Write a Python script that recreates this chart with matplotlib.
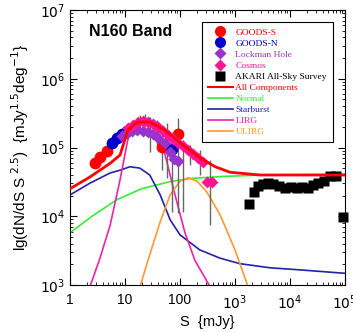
import numpy as np
import matplotlib
matplotlib.use("Agg")
import matplotlib.pyplot as plt
from matplotlib.lines import Line2D
from matplotlib.ticker import LogLocator, FixedLocator, FixedFormatter, NullFormatter

# ── data (log10 S [mJy], log10 dN/dS S^2.5) ──────────────────────────────────
all_s   = [0.0, 0.36, 0.73, 0.91, 1.05, 1.22, 1.45, 1.73, 2.0, 2.36, 2.64, 2.91, 3.45, 5.0]
all_n   = [4.40, 4.57, 4.77, 4.89, 5.25, 5.37, 5.37, 5.25, 5.07, 4.85, 4.72, 4.64, 4.60, 4.60]

norm_s  = [0.0, 0.4, 0.85, 1.3, 1.8, 2.2, 2.8, 3.5, 5.0]
norm_n  = [3.76, 4.0, 4.24, 4.40, 4.50, 4.55, 4.58, 4.60, 4.61]

sb_s    = [0.0, 0.36, 0.73, 0.91, 1.09, 1.27, 1.45, 1.64, 1.82, 2.0, 2.36, 2.73, 3.09, 3.64, 4.18, 5.0]
sb_n    = [4.31, 4.48, 4.63, 4.67, 4.72, 4.70, 4.60, 4.31, 3.95, 3.73, 3.51, 3.39, 3.31, 3.25, 3.22, 3.17]

lirg_s  = [0.36, 0.545, 0.73, 0.91, 1.05, 1.18, 1.36, 1.55, 1.73, 1.91, 2.09, 2.27, 2.55]
lirg_n  = [2.97, 3.39, 3.87, 4.53, 5.11, 5.36, 5.43, 5.33, 4.89, 4.31, 3.76, 3.36, 2.97]

ulirg_s = [1.27, 1.45, 1.64, 1.82, 2.0, 2.15, 2.31, 2.49, 2.73, 3.0, 3.24]
ulirg_n = [2.97, 3.44, 3.92, 4.31, 4.51, 4.56, 4.51, 4.35, 4.02, 3.51, 2.97]

goods_s_x = [0.455, 0.545, 0.673, 1.67, 1.96]
goods_s_y = [4.77, 4.86, 4.95, 5.01, 5.20]

goods_n_x = [0.764, 0.855, 0.945, 1.04, 1.85]
goods_n_y = [5.07, 5.14, 5.20, 5.24, 4.98]

lockman_x = [0.945, 1.04, 1.13, 1.22, 1.33, 1.42, 1.51, 1.60, 1.73, 1.82, 1.89, 1.96]
lockman_y = [5.17, 5.21, 5.24, 5.25, 5.24, 5.23, 5.20, 5.14, 5.07, 4.93, 4.83, 4.80]

cosmos_x = [1.05, 1.15, 1.24, 1.33, 1.42, 1.51, 1.60, 1.69, 1.78, 1.87, 1.96, 2.05,
            2.15, 2.24, 2.33, 2.42, 2.49, 2.58]
cosmos_y = [5.28, 5.33, 5.37, 5.39, 5.37, 5.34, 5.30, 5.24, 5.18, 5.12, 5.07, 5.02,
            4.96, 4.91, 4.85, 4.79, 4.50, 4.50]

akari_x = [3.25, 3.35, 3.42, 3.51, 3.60, 3.69, 3.80, 3.91, 4.02, 4.13, 4.22, 4.33,
           4.42, 4.51, 4.62, 4.73, 4.84, 4.96]
akari_y = [4.18, 4.35, 4.44, 4.47, 4.48, 4.47, 4.44, 4.41, 4.43, 4.41, 4.43, 4.41,
           4.45, 4.48, 4.51, 4.59, 4.59, 3.99]

# gray error bars: position, top, bottom
err_x  = [1.27, 1.36, 1.45, 1.58, 1.67, 1.76, 1.85, 1.96, 2.05, 2.18, 2.36, 2.55]
err_hi = [5.47, 5.48, 5.44, 5.40, 5.33, 5.36, 5.00, 5.43, 5.11, 5.04, 4.96, 4.82]
err_lo = [5.28, 5.30, 4.93, 5.04, 4.67, 4.56, 4.06, 4.05, 4.06, 4.75, 4.60, 3.87]

# ── colours ───────────────────────────────────────────────────────────────────
C_RED    = "#ff0000"
C_BLUE   = "#0000cc"
C_PURPLE = "#9933cc"
C_PINK   = "#ff1493"
C_GREEN  = "#33ee33"
C_SB     = "#2222aa"
C_LIRG   = "#ee22aa"
C_ULIRG  = "#ff9933"

def L(a):
    return 10 ** np.asarray(a)

fig = plt.figure(figsize=(3.53, 3.32), dpi=100)
ax = fig.add_axes([70 / 353, 1 - 285 / 332, 275 / 353, 275 / 332])
ax.set_xscale("log"); ax.set_yscale("log")
ax.set_xlim(1, 1e5); ax.set_ylim(1e3, 1e7)

# model curves
ax.plot(L(norm_s),  L(norm_n),  color=C_GREEN, lw=1.2, zorder=2)
ax.plot(L(sb_s),    L(sb_n),    color=C_SB,    lw=1.2, zorder=2)
ax.plot(L(lirg_s),  L(lirg_n),  color=C_LIRG,  lw=1.2, zorder=2)
ax.plot(L(ulirg_s), L(ulirg_n), color=C_ULIRG, lw=1.2, zorder=2)

# error bars
ax.vlines(L(err_x), L(err_lo), L(err_hi), color="#666666", lw=1.0, zorder=2.5)

# data points
ax.plot(L(goods_s_x), L(goods_s_y), "o", ms=8.5, color=C_RED, mec="none", zorder=3)
ax.plot(L(goods_n_x), L(goods_n_y), "o", ms=8.5, color=C_BLUE, mec="none", zorder=3)
ax.plot(L(lockman_x), L(lockman_y), "D", ms=6.5, color=C_PURPLE, mec="none", zorder=3)
ax.plot(L(cosmos_x), L(cosmos_y), "D", ms=6.5, color=C_PINK, mec="none", zorder=3.1)
ax.plot(L(akari_x), L(akari_y), "s", ms=7, color="black", mec="none", zorder=3, clip_on=False)

ax.plot(L(all_s), L(all_n), color=C_RED, lw=2.0, zorder=3.2)

# ticks
ax.tick_params(which="both", direction="in", top=True, right=True, labelsize=10)
ax.tick_params(which="major", length=5)
ax.tick_params(which="minor", length=2.5)
ax.xaxis.set_major_locator(FixedLocator([1, 10, 100, 1e3, 1e4, 1e5]))
ax.xaxis.set_major_formatter(FixedFormatter(["1", "10", "100", "$10^3$", "$10^4$", "$10^5$"]))
ax.yaxis.set_major_locator(FixedLocator([1e3, 1e4, 1e5, 1e6, 1e7]))
ax.yaxis.set_major_formatter(FixedFormatter(["$10^3$", "$10^4$", "$10^5$", "$10^6$", "$10^7$"]))
ax.xaxis.set_minor_locator(LogLocator(subs=np.arange(2, 10), numticks=20))
ax.yaxis.set_minor_locator(LogLocator(subs=np.arange(2, 10), numticks=20))
ax.xaxis.set_minor_formatter(NullFormatter())
ax.yaxis.set_minor_formatter(NullFormatter())
for lab in ax.get_xticklabels() + ax.get_yticklabels():
    lab.set_family("Liberation Sans")
ax.tick_params(axis="x", pad=6)

ax.set_xlabel("S  {mJy}", fontsize=10.5, family="Liberation Sans", labelpad=2)
ax.set_ylabel("lg(dN/dS S$^{\\ 2.5}$)  {mJy$^{1.5}$deg$^{-1}$}", fontsize=11,
              family="Liberation Sans", labelpad=6)

ax.text(0.07, 0.92, "N160 Band", transform=ax.transAxes, fontsize=11.5,
        fontweight="bold", family="Liberation Sans", va="center")

# legend
handles = [
    Line2D([], [], ls="none", marker="o", ms=8, color=C_RED, mec="none"),
    Line2D([], [], ls="none", marker="o", ms=8, color=C_BLUE, mec="none"),
    Line2D([], [], ls="none", marker="D", ms=6.5, color=C_PURPLE, mec="none"),
    Line2D([], [], ls="none", marker="D", ms=6.5, color=C_PINK, mec="none"),
    Line2D([], [], ls="none", marker="s", ms=7, color="black", mec="none"),
    Line2D([], [], color=C_RED, lw=1.5),
    Line2D([], [], color=C_GREEN, lw=1.2),
    Line2D([], [], color=C_SB, lw=1.2),
    Line2D([], [], color=C_LIRG, lw=1.2),
    Line2D([], [], color=C_ULIRG, lw=1.2),
]
labels = ["GOODS-S", "GOODS-N", "Lockman Hole", "Cosmos", "AKARI All-Sky Survey",
          "All Components", "Normal", "Starburst", "LIRG", "ULIRG"]
text_colors = [C_RED, C_BLUE, C_PURPLE, C_PINK, "black",
               C_RED, C_GREEN, C_SB, C_LIRG, C_ULIRG]
leg = ax.legend(handles, labels, loc="upper right", bbox_to_anchor=(0.955, 0.955),
                prop={"family": "Liberation Serif", "size": 6.8},
                frameon=True, fancybox=False, edgecolor="black", framealpha=1,
                handlelength=2.6, handletextpad=0.3, labelspacing=0.26,
                borderpad=0.6, borderaxespad=0)
leg.get_frame().set_linewidth(0.8)
for t, c in zip(leg.get_texts(), text_colors):
    t.set_color(c)

fig.savefig("out.png", dpi=100)
